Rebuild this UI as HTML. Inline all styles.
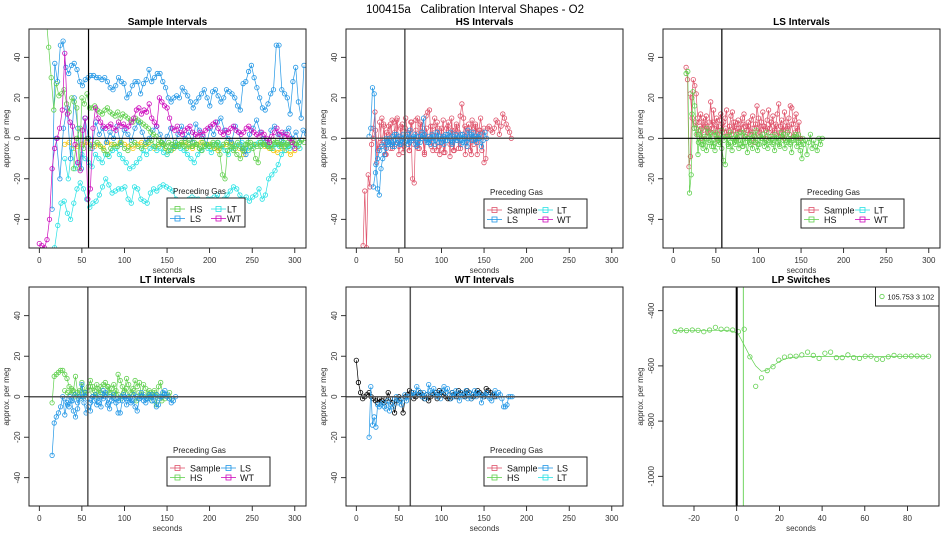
<!DOCTYPE html>
<html><head><meta charset="utf-8"><style>
html,body{margin:0;padding:0;background:#fff;}
svg{display:block;font-family:"Liberation Sans",sans-serif;}
</style></head><body>
<svg id="chart" width="950" height="550" viewBox="0 0 950 550" xmlns="http://www.w3.org/2000/svg">
<rect width="950" height="550" fill="#fff"/>
<text x="475" y="13" text-anchor="middle" font-size="11.5" style="white-space:pre">100415a   Calibration Interval Shapes - O2</text>
</svg>
<script>
// ---- data ----
const xTicks = [0,50,100,150,200,250,300];
const yTicks = [-40,-20,0,20,40];
const lpXTicks = [-20,0,20,40,60,80];
const lpYTicks = [-400,-600,-800,-1000];

// Panel 1: Sample intervals
const p1LsHi = [-35,37,28,46,48,35,32,36,37,34,28,26,29,30,31,31,30,30,29,30,28,25,24,26,30,28,27,20,22,26,28,28,22,27,29,34,28,30,32,32,28,25,20,18,20,21,20,25,23,21,18,15,18,20,22,24,20,16,23,24,21,18,20,24,23,22,20,16,14,27,28,33,36,30,25,20,15,14,17,22,24,46,46,24,22,20,12,28,35,18,10,36];
const p1LsLo = [0,-20,5,15,-10,20,5,-15,10,0,-5,8,2,5,-2,3,0,6,-3,4,2,-1,5,8,3,-2,0,4,6,2,-3,1,5,-4,2,6,0,3,-2,7,4,1,-3,5,2,8,10,4,0,-2,6,3,-5,-8,2,5,9,3,0,-3,4,6,2,-1,3,5,0,3,-2,4,2];
const p1LtLo = [-54,-43,-32,-31,-37,-40,-32,-25,-22,-25,-30,-34,-32,-31,-28,-24,-20,-23,-27,-26,-25,-25,-24,-30,-32,-24,-25,-30,-31,-32,-27,-25,-26,-24,-23,-24,-25,-26,-30,-33,-34,-31,-30,-29,-30,-30,-32,-34,-30,-30,-29,-28,-31,-30,-28,-26,-24,-25,-28,-30,-29,-31,-29,-28,-25,-30,-28,-20,-18,-16,-13,-8,-6,-4,-2];
const p1LtMid = [-10,-20,-5,-15,-12,-8,-10,-12,-14,-8,-10,-12,-8,-9,-6,-5,-8,-10,-12,-15,-14,-12,-10,-6,-8,-5,-4,-6,-5,-7,-8,-6,-4,-3,-5,-6,-8,-10,-12,-8,-6,-4,-5,-7,-3,-2,-4,-6,-8,-5,-4,-3,-2,-5,-6,-4,-3,-2,-3,-2,-4,-5,-3,-4,-2,-3,-5,-4,-3,-5];
const p1Hs = [60,45,30,14,27,21,22,24,17,13,20,18,15,-15,20,17,22,15,15,16,14,13,12,14,15,13,12,11,13,10,12,11,10,9,8,10,9,8,7,6,5,3,2,1,-1,-2,-3,-4,-2,-3,-5,-4,-3,-2,-4,-5,-3,-4,-2,-3,-5,-6,-4,-3,-4,-3,-5,-2,-8,-18,-20,-6,-4,-3,-5,-2,-4,-6,-3,-2,-4,-5,-10,-12,-4,-3,-2,-4,-3,-1,-2,-3,-4,-2,-3,-4,-2,-1,-3,-2,-1,-2];
const p1Hs2 = [-15,0,5,-5,0,-5,-3,-2,-4,-6,-8,-5,-3,-4,-2,-5,-6,-3,-2,-4,-5,-3,-2,-1,-4,-3,-2,-5,-6,-3,-2,-4,-3,-2,-1,-4,-3,-5,-2,-3,-4,-2,-3,-5,-3,-2,-4,-6,-8,-10,-5,-3,-2,-3,-4,-2,-3,-4,-5,-3,-2,-3,-4,-2,-1,-3,-4];
const p1Wt = [-52,-53,-54,-50,-40,-15,-5,0,5,14,42,12,8,6,-3,-12,-16,4,10,-30,-25,5,15,10,8,6,5,6,7,5,4,8,6,7,5,6,8,10,14,15,12,14,13,17,10,8,6,20,18,16,15,10,5,4,6,3,2,4,5,6,3,2,1,3,2,4,5,6,7,8,5,3,2,4,3,5,6,4,3,2,3,5,6,4,3,2,1,3,2,0,-2,1,3,5,2,3,1,2,0,-2,-5];
const p1Yel = [-3,-2,-5,-4,-3,-2,-3,-4,-3,-5,-2,-3,-4,-2,-3,-4,-5,-3,-2,-4,-3,-5,-4,-3,-8,-6,-4,-3,-2,-4,-5,-3,-2,-4,-3,-5,-6,-4,-3,-2,-4,-5,-8,-6,-4,-3,-2,-4,-5,-6,-7,-5,-6,-8,-6];

// Panel 2: HS intervals
const p2SampleA = [-53,-26,-54,-18,-24,-3,5,13,-12,-5,-2,10,7,-8,3,6,-5,9,8,-3,10,-8,5,7,-4,10,3,-6,8,-20,-22,9,10,-5,8,5,-7,11,13,14,-4,6,10,-6,5,-8,3,9,-7,5,8,-9,10,-6,4,6,-5,11,17,10,-8,5,7,-6,9,-3,6,-8,4,10,3,-12,-10,5,6,4,3,5,9,8,2,6,12,10,7,5,3,0];
const p2SampleB = [0,4,-6,8,-3,6,-8,2,7,-5,3,9,-4,6,-7,5,2,-6,8,-3,4,-5,7,2,-8,5,-2,6,-6,3,8,-4,5,-7,2,6,-3,4,-6,7,3,-5,2,6,-4,5,-8,3,7,-2,4,-6,5];
const p2Ls = [1,5,25,22,-13,-25,-28,-15,-10,-8,-5,-2,0,-3,1,-4,2,-1,-3,0,2,-2,1,-3,4,-1,0,2,-4,1,-2,3,10,0,-2,1,-3,2,0,-1,3,-2,1,0,-3,2,-1,1,3,-2,0,2,-1,1,-3,2,0,-2,4,1,-1,3,0,-2,1,2,-4,-1,3,0];
const p2Ls2 = [-24,-17,-10,-6,-4,-2,0,-3,-1,-4,2,-2,1,-3,0,-1,2,-2,0,1,-3,-2,1,0,2,-1,-2,0,1,-3,3,0,-2,1,-1,2,0,-3,1,-1,0,2,-2,1,-4,0,2,-1,1,0,0];

// Panel 3: LS intervals
const p3SampleA = [35,29,-14,-9,20,29,26,22,10,8,12,5,10,6,11,3,8,18,5,14,7,10,4,9,12,3,8,10,14,2,6,11,13,4,8,5,9,3,7,10,12,6,4,8,2,9,11,5,7,16,10,3,8,13,6,4,9,14,5,8,11,3,7,12,17,6,9,4,13,8,5,10,16,15,7,9,12,4,8,0];
const p3SampleB = [22,10,5,8,2,6,0,4,7,1,5,3,8,2,6,-1,4,7,3,5,1,6,2,8,4,0,5,3,7,1,4,6,2,5,-2,3,7,1,4,6,0,5,3,8,2,4,6,1,3,5,0,4,6,2,7,1,3,5,0];
const p3HsA = [32,33,-27,-18,23,16,5,-8,2,-3,-5,0,-6,-2,3,-4,-1,-6,2,-3,0,-5,-11,-13,1,-4,-2,-6,0,-3,2,-5,-1,-4,3,-2,-7,0,-3,-5,1,-2,-6,-3,0,2,-4,-1,-5,-2,1,-3,-6,0,-2,-4,3,-1,-5,-2,0,-3,-7,-1,2,-4,-2,-6,-10,-3,-1,-8,-2,2,-5,-1,-4,-6,0,-3,0];
const p3HsB = [12,5,2,-2,4,-3,1,5,-1,2,-4,3,0,-2,4,-1,1,-3,3,0,-2,2,-1,3,-4,1,0,-2,2,-1,4,-3,1,0,-2,3,-1,1,-2,2,0,-3,1,2,-1,3,-2,0,1,-1,2,-3,0];

// Panel 4: LT intervals
const p4Hs = [-3,10,11,12,13,13,11,9,5,4,3,10,2,3,7,0,2,5,8,5,3,6,1,5,6,7,5,2,4,6,1,11,8,5,3,9,6,2,4,8,5,7,1,6,4,0,2,-2,3,-4,5,7,1,-1];
const p4Ls = [-29,-13,-10,-8,-5,0,-9,-3,-5,-2,-7,-10,-6,0,6,-3,-8,-5,-7,0,-2,-4,-3,-5,3,0,-4,-6,-2,-1,-3,-8,-8,-2,0,-4,-1,-3,-2,-5,-7,-1,0,-2,-3,-1,0,1,-2,-5,-4,0,2,3,1,-1,-3,-2,0];
const p4Hs2 = [3,2,1,3,0,2,-1,4,1,3,5,2,0,4,2,3,1,5,2,0,3,1,-1,2,4,0,1,3,-2,2,0,1,-1,3,0,2,1,0,-2,1,0,2,-1];
const p4Ls2 = [-1,-4,0,-2,1,-3,-1,0,2,-1,-3,0,1,-2,0,-1,2,-3,0,1,-1,-2,0,1,-1,0,-2,1,0,-1,2,0,-1,1,-2,0,1,-1,0,1,0,-1];

// Panel 5: WT intervals
const p5Wt = [18,7,2,-1,0,1,2,0,-1,-2,-3,-1,-2,-3,-1,2,-1,-3,-8,-2,0,-1,-8,0,1,3,2,-1,0,1,2,0,-1,1,-2,0,1,2,-1,3,2,1,0,-1,-1,2,1,0,3,2,1,0,3,2,-1,0,1,3,2,1,0,4,3,2,1,0];
const p5Ls = [-20,5,-14,-10,-15,-4,-5,-4,-3,-5,-6,-2,-7,-4,-5,-1,0,-3,-2,-4,-1,1,-2,0,0,1,2,1,5,3,1,0,2,-1,1,6,3,2,4,1,0,2,-1,3,5,2,4,1,-1,2,0,3,1,-2,2,0,1,3,-1,2,-1,1,3,0,2,1,-3,0,1,2,0,-1,-2,1,3,0,2,1,-1,-5,-5,-4,0,0,0];

// Panel 6: LP switches
const lpValues = [-475,-470,-472,-470,-471,-476,-470,-460,-467,-467,-470,-476,-467,-567,-674,-643,-617,-603,-579,-568,-565,-565,-560,-550,-562,-573,-554,-550,-570,-570,-560,-570,-573,-565,-565,-576,-576,-567,-562,-565,-565,-564,-564,-567,-565];
const lpFit = [-472,-472,-471,-471,-471,-471,-471,-471,-471,-472,-474,-485,-525,-565,-600,-620,-615,-600,-585,-575,-570,-568,-567,-566,-566,-566,-566,-566,-566,-566,-566,-566,-566,-566,-566,-566,-566,-566,-566,-566,-566,-566,-566,-566,-566];

// ---- rendering ----
const NS = 'http://www.w3.org/2000/svg';
const svg = document.getElementById('chart');
const C = {Sample:'#DF536B', HS:'#61D04F', LS:'#2297E6', LT:'#28E2E5', WT:'#CD0BBC', black:'#000', yel:'#F5C710'};
function el(tag, attrs, parent){const e=document.createElementNS(NS,tag);for(const k in attrs)e.setAttribute(k,attrs[k]);(parent||svg).appendChild(e);return e;}

function makeScale(d0,d1,r0,r1){return v=>r0+(v-d0)*(r1-r0)/(d1-d0);}

function panel(p){
  const g = el('g',{});
  
  
  const clipId = 'clip-'+p.name;
  const cp = el('clipPath',{id:clipId},g);
  el('rect',{x:p.L,y:p.T,width:p.W,height:p.H},cp);
  const t = el('text',{x:p.L+p.W/2,y:p.T-4,'text-anchor':'middle','font-size':'10','font-weight':'bold'},g);
  t.textContent = p.title;
  
  
  const xs = p.xs, ys = p.ys;
  const ax = el('g',{},g);
  
  
  el('line',{x1:xs(p.xt[0]),x2:xs(p.xt[p.xt.length-1]),y1:p.T+p.H,y2:p.T+p.H,stroke:'#000','stroke-width':0.8},ax);
  p.xt.forEach(v=>{
    el('line',{x1:xs(v),x2:xs(v),y1:p.T+p.H,y2:p.T+p.H+5,stroke:'#000','stroke-width':0.8},ax);
    const tt = el('text',{x:xs(v),y:p.T+p.H+15,'text-anchor':'middle','font-size':'8',fill:'#333'},ax);
    tt.textContent = v;
  });
  const xl = el('text',{x:p.L+p.W/2,y:p.T+p.H+25,'text-anchor':'middle','font-size':'8',fill:'#333'},g);
  xl.textContent = 'seconds';
  
  
  const ay = el('g',{},g);
  
  
  p.yt.forEach(v=>{
    el('line',{x1:p.L,x2:p.L-5,y1:ys(v),y2:ys(v),stroke:'#000','stroke-width':0.8},ay);
    const tt = el('text',{x:0,y:0,'text-anchor':'middle','font-size':'8',fill:'#333',transform:`translate(${p.L-9},${ys(v)}) rotate(-90)`},ay);
    tt.textContent = v;
  });
  const yl = el('text',{x:0,y:0,'text-anchor':'middle','font-size':'8',fill:'#333',transform:`translate(${p.L-20},${p.T+p.H/2}) rotate(-90)`},g);
  yl.textContent = 'approx. per meg';
  
  
  const plot = el('g',{'clip-path':`url(#${clipId})`},g);
  return {g, plot};
}

function series(plot, xs, ys, t0, dt, vals, color, name, noLine, noPts){
  const sg = el('g',{},plot);
  
  
  const pts = vals.map((v,i)=>[xs(t0+i*dt), ys(v)]);
  if(!noLine) el('polyline',{points:pts.map(q=>q[0].toFixed(1)+','+q[1].toFixed(1)).join(' '),fill:'none',stroke:color,'stroke-width':0.7},sg);
  if(noPts) return;
  pts.forEach(q=>{
    const c = el('circle',{cx:q[0].toFixed(1),cy:q[1].toFixed(1),r:2.2,fill:'none',stroke:color,'stroke-width':0.8},sg);
    
    
  });
}

function refLines(g, p, vx, col, w){
  el('line',{x1:p.L,x2:p.L+p.W,y1:p.ys(0),y2:p.ys(0),stroke:col,'stroke-width':w},g);
  el('line',{x1:p.xs(vx),x2:p.xs(vx),y1:p.T,y2:p.T+p.H,stroke:col,'stroke-width':w},g);
}

function frame(g,p){el('rect',{x:p.L,y:p.T,width:p.W,height:p.H,fill:'none',stroke:'#222','stroke-width':1},g);}

function legend(g, bx, by, bw, entries, c2line, c2text){
  const lg = el('g',{},g);
  
  
  const tt = el('text',{x:bx+6,y:by-4,'font-size':'8',fill:'#222'},lg);
  tt.textContent = 'Preceding Gas';
  el('rect',{x:bx,y:by,width:bw,height:29,fill:'#fff',stroke:'#222','stroke-width':1},lg);
  entries.forEach((e,i)=>{
    const col = i<2?0:1, row=i%2;
    const y = by+11+row*9.5;
    const lx = col? bx+c2line : bx+3;
    const tx = col? bx+c2text : bx+23;
    const eg = el('g',{},lg);
    
    
    el('line',{x1:lx,x2:lx+15,y1:y,y2:y,stroke:C[e],'stroke-width':0.8},eg);
    el('rect',{x:lx+5,y:y-2.5,width:5,height:5,fill:'none',stroke:C[e],'stroke-width':0.8},eg);
    const t = el('text',{x:tx,y:y+3.3,'font-size':'9',fill:'#111'},eg);
    t.textContent = e;
  });
}

function stdPanel(col,row,title,name){
  const L = 29+col*317, T = row? 287:29, W=277, H=219;
  const z = row? 396.7:138.3;
  const xs = makeScale(0,300,L+10.3,L+10.3+255.5);
  const ys = makeScale(0,40,z,z-81);
  return {L,T,W,H,xs,ys,title,name,xt:xTicks,yt:yTicks};
}

// Panel 1
let p = stdPanel(0,0,'Sample Intervals','panel-sample-intervals');
let r = panel(p);
series(r.plot,p.xs,p.ys,30,5,p1Yel,C.yel,'series-other',false);
series(r.plot,p.xs,p.ys,18,3.75,p1LtLo,C.LT,'series-lt-a');
series(r.plot,p.xs,p.ys,30,4,p1LtMid,C.LT,'series-lt-b');
series(r.plot,p.xs,p.ys,15,3.25,p1LsHi,C.LS,'series-ls-a');
series(r.plot,p.xs,p.ys,20,4.2,p1LsLo,C.LS,'series-ls-b');
series(r.plot,p.xs,p.ys,8,3,p1Hs,C.HS,'series-hs-a');
series(r.plot,p.xs,p.ys,40,4,p1Hs2,C.HS,'series-hs-b');
series(r.plot,p.xs,p.ys,0,3,p1Wt,C.WT,'series-wt');
refLines(r.g,p,57.8,'#000',1.2); frame(r.g,p);
legend(r.g,167,198,78,['HS','LS','LT','WT'],44,60);

// Panel 2
p = stdPanel(1,0,'HS Intervals','panel-hs-intervals');
r = panel(p);
series(r.plot,p.xs,p.ys,8,2,p2SampleA,C.Sample,'series-sample-a');
series(r.plot,p.xs,p.ys,20,2.5,p2SampleB,C.Sample,'series-sample-b');
series(r.plot,p.xs,p.ys,15,2,p2Ls,C.LS,'series-ls-a');
series(r.plot,p.xs,p.ys,20,2.5,p2Ls2,C.LS,'series-ls-b');
refLines(r.g,p,57,'#555',1.5); frame(r.g,p);
legend(r.g,484,199,103,['Sample','LS','LT','WT'],54,73);

// Panel 3
p = stdPanel(2,0,'LS Intervals','panel-ls-intervals');
r = panel(p);
series(r.plot,p.xs,p.ys,15,1.7,p3SampleA,C.Sample,'series-sample-a');
series(r.plot,p.xs,p.ys,20,2.2,p3SampleB,C.Sample,'series-sample-b');
series(r.plot,p.xs,p.ys,15,2,p3HsA,C.HS,'series-hs-a');
series(r.plot,p.xs,p.ys,22,2.5,p3HsB,C.HS,'series-hs-b');
refLines(r.g,p,57,'#000',1.2); frame(r.g,p);
legend(r.g,801,199,103,['Sample','HS','LT','WT'],54,73);

// Panel 4
p = stdPanel(0,1,'LT Intervals','panel-lt-intervals');
r = panel(p);
series(r.plot,p.xs,p.ys,15,2.5,p4Hs,C.HS,'series-hs-a');
series(r.plot,p.xs,p.ys,30,3,p4Hs2,C.HS,'series-hs-b');
series(r.plot,p.xs,p.ys,15,2.5,p4Ls,C.LS,'series-ls-a');
series(r.plot,p.xs,p.ys,30,3,p4Ls2,C.LS,'series-ls-b');
refLines(r.g,p,57,'#555',1.5); frame(r.g,p);
legend(r.g,167,457,103,['Sample','HS','LS','WT'],54,73);

// Panel 5
p = stdPanel(1,1,'WT Intervals','panel-wt-intervals');
r = panel(p);
series(r.plot,p.xs,p.ys,0,2.5,p5Wt,C.black,'series-wt');
series(r.plot,p.xs,p.ys,15,2,p5Ls,C.LS,'series-ls');
refLines(r.g,p,63.4,'#555',1.5); frame(r.g,p);
legend(r.g,484,457,103,['Sample','HS','LS','LT'],54,73);

// Panel 6: LP switches
p = {L:663,T:287,W:276,H:219,title:'LP Switches',name:'panel-lp-switches',xt:lpXTicks,yt:lpYTicks,
     xs:makeScale(0,20,736.7,779.4), ys:makeScale(-400,-600,310.7,365.9)};
r = panel(p);
el('line',{x1:p.xs(0),x2:p.xs(0),y1:p.T,y2:p.T+p.H,stroke:'#000','stroke-width':2},r.g);
el('line',{x1:p.xs(3.1),x2:p.xs(3.1),y1:p.T,y2:p.T+p.H,stroke:C.HS,'stroke-width':0.9},r.g);
series(r.plot,p.xs,p.ys,-28.9,2.7,lpFit,C.HS,'lp-fit-line',false,true);
series(r.plot,p.xs,p.ys,-28.9,2.7,lpValues,C.HS,'lp-points',true);
frame(r.g,p);
const lg = el('g',{},r.g);


el('rect',{x:875.5,y:287,width:63.5,height:19,fill:'#fff',stroke:'#222','stroke-width':1},lg);
el('circle',{cx:882,cy:296.5,r:2.2,fill:'none',stroke:C.HS,'stroke-width':0.8},lg);
const lt = el('text',{x:887.5,y:299.3,'font-size':'7.3',fill:'#111'},lg);
lt.textContent = '105.753 3 102';
</script>
</body></html>
